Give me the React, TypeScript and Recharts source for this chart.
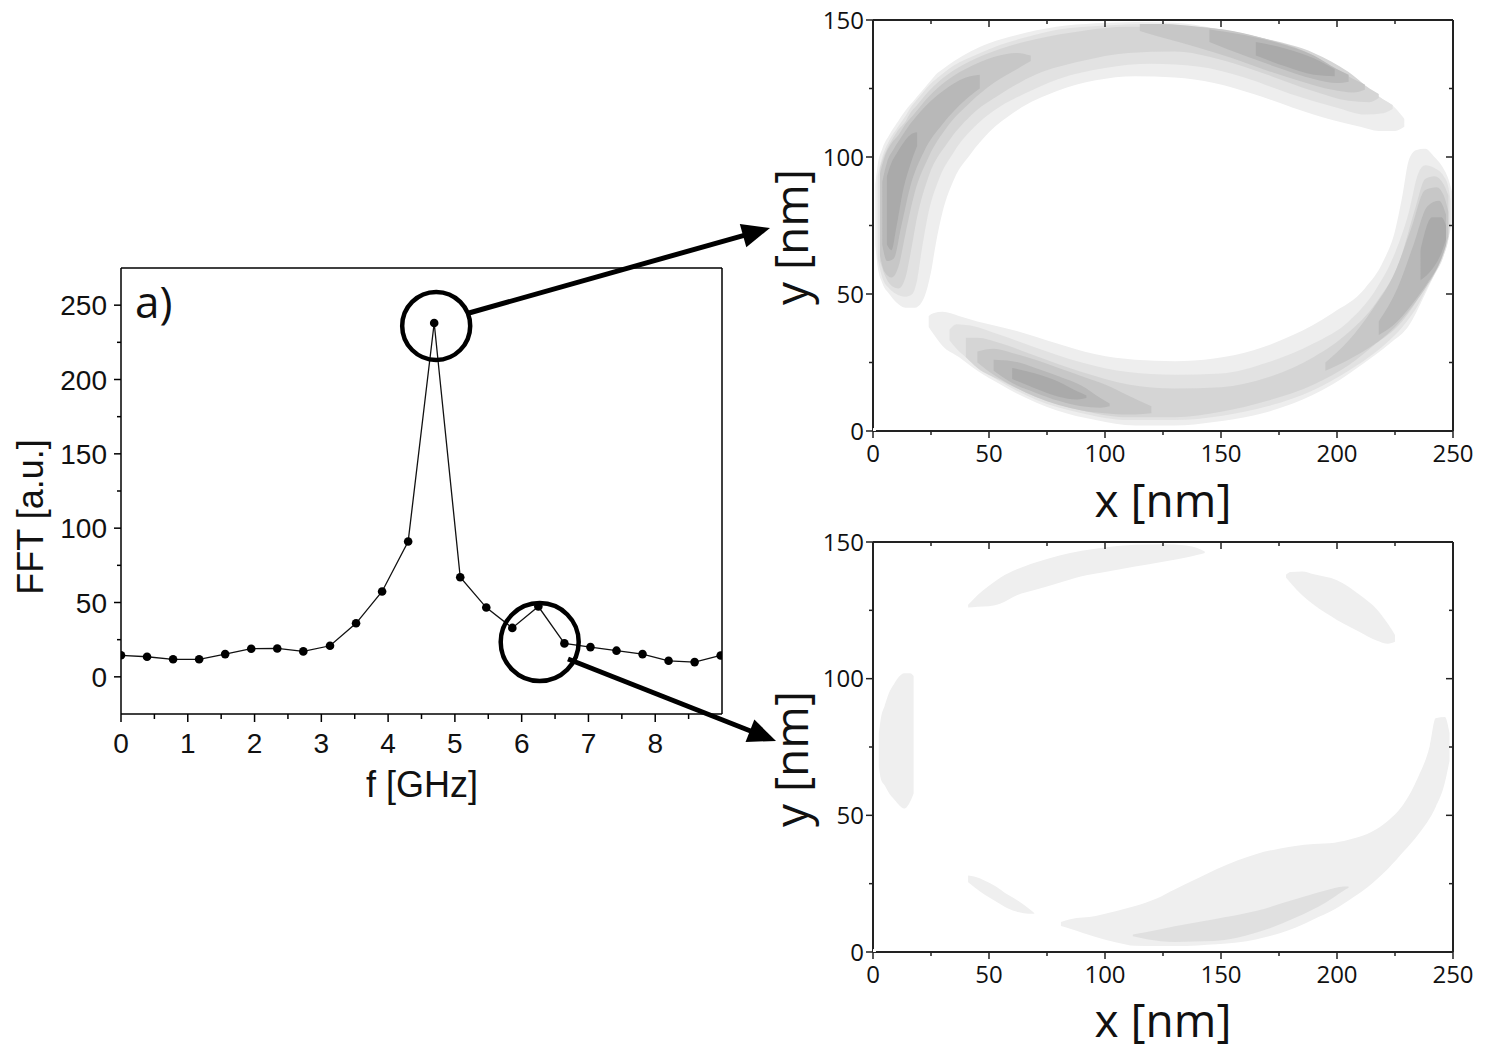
import React from 'react';
import { ComposedChart, Line, Area, XAxis, YAxis, ReferenceDot } from 'recharts';

// ---------------- Left panel: FFT spectrum ----------------
const freqs = [0, 0.39, 0.78, 1.17, 1.56, 1.95, 2.34, 2.73, 3.13, 3.52, 3.91, 4.3, 4.69, 5.08, 5.47, 5.86, 6.25, 6.64, 7.03, 7.42, 7.81, 8.2, 8.59, 8.98];
const fftValues = [14.5, 13.5, 11.8, 11.8, 15.3, 18.9, 19.1, 17.1, 20.9, 36, 57.4, 91, 238, 67, 46.6, 32.9, 47.3, 22.5, 20, 17.6, 15.3, 10.8, 9.9, 14.4];
const fTicks = [0, 0.5, 1, 1.5, 2, 2.5, 3, 3.5, 4, 4.5, 5, 5.5, 6, 6.5, 7, 7.5, 8, 8.5];
const fftTicks = [0, 25, 50, 75, 100, 125, 150, 175, 200, 225, 250];
const markA = { f: 4.72, v: 236 };
const markB = { f: 6.27, v: 23.4 };

// ---------------- Right panels: mode maps (x, yLow, yHigh in nm) ----------------
type Row = [number, number, number];
const nmTicksX = [0, 25, 50, 75, 100, 125, 150, 175, 200, 225, 250];
const nmTicksY = [0, 25, 50, 75, 100, 125, 150];

// top map, upper-left crescent
const topA1: Row[] = [[1, 68, 90], [2, 60, 97], [4, 54, 103], [7, 50, 108], [10, 47, 112], [14, 45, 117], [18, 45, 121], [21, 47, 124], [23, 51, 126], [25, 58, 128], [27, 68, 130], [30, 80, 132], [35, 92, 135], [42, 101, 138.5], [50, 109, 141.5], [62, 117, 144.5], [79, 124, 147.5], [96, 128, 148.8], [113, 129.5, 149.3], [130, 129, 149], [147, 127, 147], [164, 123, 144], [181, 118, 139.5], [198, 113.5, 132], [210, 111, 126.5], [218, 109.5, 122], [225, 109.5, 118], [229, 111, 114]];
const topA2: Row[] = [[2, 63, 93], [4, 56, 100], [7, 52, 106], [10, 50, 110], [14, 49, 115], [17, 50, 119], [19, 55, 121], [21, 66, 123], [24, 80, 126], [28, 91, 129], [35, 102, 133.5], [45, 112, 137.5], [55, 118.5, 141], [65, 123, 143.5], [80, 128.5, 146.5], [100, 132.5, 148], [120, 134, 148.5], [140, 133, 147.5], [160, 129, 145], [180, 123, 140], [200, 118, 132], [212, 115.5, 126], [220, 116, 121], [224, 117.5, 119]];
const topA3: Row[] = [[3, 62, 96], [5, 57, 101], [8, 53, 106], [11, 52, 110], [14, 56, 113], [16, 64, 116], [19, 78, 119], [24, 93, 124], [32, 105, 130], [42, 115, 135], [55, 123, 139.5], [70, 130, 143], [90, 135, 146], [110, 138, 147.5], [130, 138.5, 147], [150, 135.5, 146], [170, 130, 143], [190, 124, 138], [205, 120.5, 131], [214, 120, 125], [218, 121.5, 123]];
const topA4a: Row[] = [[3, 64, 94], [5, 58, 100], [8, 56, 105], [11, 60, 108], [14, 72, 112], [18, 87, 116], [24, 100, 122], [32, 111, 128], [42, 120, 133], [52, 127, 136.5], [62, 132, 138], [68, 135, 137]];
const topA4b: Row[] = [[115, 146, 148.5], [125, 143.5, 148.5], [140, 140, 147.5], [155, 136, 146], [170, 131.5, 143], [185, 127.5, 139], [198, 124.5, 133], [207, 123.5, 128.5], [212, 124.5, 126.5]];
const topA5a: Row[] = [[4, 68, 91], [6, 62, 98], [9, 63, 103], [12, 74, 107], [16, 89, 112], [22, 102, 118], [30, 112, 124], [40, 121, 129], [46, 125, 130]];
const topA5b: Row[] = [[145, 142, 146.5], [160, 137, 144.5], [175, 132.5, 141.5], [190, 128.5, 137], [200, 127, 132], [205, 127.5, 130]];
const topA6a: Row[] = [[6, 68, 93], [8, 66, 98], [10, 74, 101], [13, 88, 105], [16, 97, 108], [19, 104, 109]];
const topA6b: Row[] = [[165, 137, 142], [178, 133, 139.5], [190, 130, 136], [199, 129.5, 132]];

// top map, lower-right crescent
const topB1: Row[] = [[24, 38, 42], [26, 35.5, 43], [30, 31, 43.5], [37, 27, 42], [45, 22, 40], [55, 17, 38], [62, 13.7, 36.5], [79, 7.6, 32], [96, 4, 28], [113, 2, 26], [130, 2, 25.5], [147, 3.3, 26.5], [164, 5.7, 29.5], [181, 10, 35], [198, 17, 43], [212, 25, 52], [220, 30, 62], [225, 33.5, 73], [228, 35.5, 85], [231, 38.5, 99], [234, 43, 102.5], [238, 50, 103], [242, 57, 100], [245, 62, 97], [248, 70, 92], [250, 78, 86]];
const topB2: Row[] = [[33, 33, 37], [36, 30, 39], [42, 25.5, 38.5], [55, 18, 35], [70, 11.5, 30.5], [90, 6.5, 25], [110, 4, 21.5], [130, 4, 20.5], [150, 5.5, 21], [170, 9, 25], [190, 15, 32], [205, 22, 40], [217, 29, 52], [225, 35, 65], [231, 41, 80], [235, 46, 94], [238, 51, 97], [242, 57, 96], [246, 64, 93], [248, 70, 89], [249, 76, 84]];
const topB3: Row[] = [[40, 27, 34], [45, 23, 34], [55, 18.5, 32], [70, 12.5, 27.5], [90, 7.5, 21.5], [110, 5, 17], [130, 5, 15.5], [150, 7, 16], [170, 11, 19.5], [190, 17, 27], [205, 24, 36], [217, 32, 47], [227, 39, 62], [234, 47, 82], [238, 53, 92], [242, 59, 93], [246, 66, 90], [248, 72, 86]];
const topB4a: Row[] = [[45, 25, 29], [52, 20.5, 30], [60, 16.5, 28.5], [70, 12.5, 26], [80, 9.5, 23], [90, 7.5, 20], [100, 6.5, 17], [110, 6, 13], [120, 6.5, 9]];
const topB4b: Row[] = [[195, 22, 25], [205, 26, 33], [215, 31, 44], [225, 38, 58], [232, 45, 74], [238, 52, 88], [243, 59, 89], [246, 65, 86], [248, 71, 80]];
const topB5a: Row[] = [[52, 22, 26], [60, 17.5, 25.5], [70, 14, 23], [80, 11, 20], [90, 9, 16.5], [98, 8.5, 12], [102, 9, 10]];
const topB5b: Row[] = [[218, 35, 40], [226, 40, 52], [233, 47, 68], [239, 54, 82], [244, 61, 84], [247, 68, 79]];
const topB6a: Row[] = [[60, 19, 23], [70, 15.5, 21], [80, 12.5, 18], [88, 11.5, 14.5], [92, 12, 13]];
const topB6b: Row[] = [[236, 55, 66], [241, 59, 78], [245, 65, 78], [247, 70, 75]];

// bottom map
const botTop: Row[] = [[41, 126, 127], [45, 126.3, 130.5], [50, 126.5, 134], [55, 127.5, 137], [62, 130.5, 140], [70, 132.5, 142.5], [80, 135, 145], [90, 137.5, 146.8], [100, 139, 148], [113, 141, 149], [125, 142.8, 149.2], [135, 144.3, 148.7], [140, 145.3, 147.7], [143, 146, 146.5]];
const botRightUp: Row[] = [[178, 137, 138], [180, 135, 139], [185, 130.5, 139.2], [190, 127, 138.2], [200, 121.5, 136], [210, 117, 130.5], [217, 114, 125.5], [222, 112.8, 120], [225, 113.5, 116]];
const botLeft: Row[] = [[2.5, 68, 80], [3.5, 63, 86], [5, 61, 90], [7, 58, 95], [9, 56, 98], [11, 54, 100.5], [13.5, 52.5, 102], [16, 55, 102], [17.5, 58, 101]];
const botSmall: Row[] = [[41, 25.5, 28], [44, 23.5, 27.5], [48, 21, 26.2], [53, 18.5, 24], [58, 16, 21], [63, 14.5, 18.5], [67, 14, 16], [69.5, 14, 14.3]];
const botBig: Row[] = [[81, 9.5, 11], [85, 8.5, 12], [96, 5.5, 13.2], [105, 3.5, 15], [113, 2.3, 16.8], [122, 2.2, 19.5], [130, 2.2, 22.9], [140, 2.4, 27], [148, 2.8, 30.3], [157, 3.5, 33.5], [165, 4.6, 35.8], [175, 6.8, 37.8], [182, 8.9, 38.8], [190, 12, 39.5], [199, 15.6, 40], [207, 20, 41.5], [215, 25, 44], [222, 30.5, 48], [229, 37, 54.5], [235, 43, 64], [240, 49, 75.5], [242.5, 53, 85.5], [246.5, 62, 86], [248.5, 70, 80]];
const botCore: Row[] = [[112, 5.8, 6.4], [118, 4.7, 7.3], [130, 3.7, 9.4], [147, 4, 12], [165, 7, 15], [182, 12.5, 19.3], [195, 18, 22.5], [203, 22.5, 24], [205, 23.5, 24]];

const G1 = '#eeeeee', G2 = '#e2e2e2', G3 = '#d5d5d5', G4 = '#c7c7c7', G5 = '#b8b8b8', G6 = '#aaaaaa';

const topLayers: { rows: Row[]; fill: string }[] = [
  { rows: topA1, fill: G1 }, { rows: topB1, fill: G1 },
  { rows: topA2, fill: G2 }, { rows: topB2, fill: G2 },
  { rows: topA3, fill: G3 }, { rows: topB3, fill: G3 },
  { rows: topA4a, fill: G4 }, { rows: topA4b, fill: G4 }, { rows: topB4a, fill: G4 }, { rows: topB4b, fill: G4 },
  { rows: topA5a, fill: G5 }, { rows: topA5b, fill: G5 }, { rows: topB5a, fill: G5 }, { rows: topB5b, fill: G5 },
  { rows: topA6a, fill: G6 }, { rows: topA6b, fill: G6 }, { rows: topB6a, fill: G6 }, { rows: topB6b, fill: G6 },
];
const botLayers: { rows: Row[]; fill: string }[] = [
  { rows: botTop, fill: '#efefef' }, { rows: botRightUp, fill: '#efefef' }, { rows: botLeft, fill: '#efefef' },
  { rows: botSmall, fill: '#efefef' }, { rows: botBig, fill: '#efefef' }, { rows: botCore, fill: '#e0e0e0' },
];

const toData = (rows: Row[]) => rows.map(([x, lo, hi]) => ({ x, r: [lo, hi] }));
const leftData = freqs.map((f, i) => ({ f, v: fftValues[i] }));
const frameData = [{ x: 0, y: 0 }];

const NARROW = "'Liberation Sans Narrow', 'Liberation Sans', Arial, sans-serif";
const SANS = "'Liberation Sans', Arial, sans-serif";
const OPEN = "'Open Sans', 'Noto Sans', sans-serif";

// ---------- tick renderers ----------
const leftXTick = (p: any) => {
  const v = p.payload.value;
  const major = Number.isInteger(v);
  return (
    <g>
      <line x1={p.x} y1={p.y} x2={p.x} y2={p.y + (major ? 8 : 5)} stroke="#000" strokeWidth={1.5} />
      {major && (
        <text x={p.x} y={p.y + 39} textAnchor="middle" fontFamily={NARROW} fontSize={28} fill="#111">{v}</text>
      )}
    </g>
  );
};
const leftYTick = (p: any) => {
  const v = p.payload.value;
  const major = v % 50 === 0;
  return (
    <g>
      <line x1={p.x - (major ? 7 : 4)} y1={p.y} x2={p.x} y2={p.y} stroke="#000" strokeWidth={1.5} />
      {major && (
        <text x={p.x - 14} y={p.y} dy="0.36em" textAnchor="end" fontFamily={NARROW} fontSize={28} fill="#111">{v}</text>
      )}
    </g>
  );
};
const mapXTick = (p: any) => {
  const v = p.payload.value;
  const major = v % 50 === 0;
  return (
    <g>
      <line x1={p.x} y1={p.y} x2={p.x} y2={p.y + (major ? 7 : 4)} stroke="#222" strokeWidth={1.5} />
      {major && (
        <text x={p.x} y={p.y + 31} textAnchor="middle" fontFamily={OPEN} fontSize={24} fill="#111">{v}</text>
      )}
    </g>
  );
};
const mapYTick = (p: any) => {
  const v = p.payload.value;
  const major = v % 50 === 0;
  return (
    <g>
      <line x1={p.x - (major ? 7 : 4)} y1={p.y} x2={p.x} y2={p.y} stroke="#222" strokeWidth={1.5} />
      {major && (
        <text x={p.x - 9} y={p.y} dy="0.36em" textAnchor="end" fontFamily={OPEN} fontSize={24} fill="#111">{v}</text>
      )}
    </g>
  );
};
const mapTopTick = (p: any) => {
  const major = p.payload.value % 50 === 0;
  return <line x1={p.x} y1={p.y} x2={p.x} y2={p.y + (major ? 7 : 4)} stroke="#222" strokeWidth={1.5} />;
};
const mapRightTick = (p: any) => {
  const major = p.payload.value % 50 === 0;
  return <line x1={p.x} y1={p.y} x2={p.x - (major ? 7 : 4)} y2={p.y} stroke="#222" strokeWidth={1.5} />;
};

function MapChart({ layers, top }: { layers: { rows: Row[]; fill: string }[]; top: number }) {
  return (
    <div style={{ position: 'absolute', left: 780, top, width: 707, height: 520 }}>
      <ComposedChart width={707} height={520} margin={{ top: 19, right: 33, bottom: top > 0 ? 50 : 49, left: 33 }}>
        <XAxis xAxisId="b" dataKey="x" type="number" domain={[0, 250]} ticks={nmTicksX} interval={0} allowDataOverflow
          height={40} tickSize={0} tickMargin={0} tick={mapXTick} axisLine={{ stroke: '#222', strokeWidth: 2 }} tickLine={false} />
        <XAxis xAxisId="t" orientation="top" dataKey="x" type="number" domain={[0, 250]} ticks={nmTicksX} interval={0} allowDataOverflow
          height={1} tickSize={0} tickMargin={0} tick={mapTopTick} axisLine={{ stroke: '#222', strokeWidth: 2 }} tickLine={false} />
        <YAxis yAxisId="l" type="number" domain={[0, 150]} ticks={nmTicksY} interval={0} allowDataOverflow
          width={60} tickSize={0} tickMargin={0} tick={mapYTick} axisLine={{ stroke: '#222', strokeWidth: 2 }} tickLine={false} />
        <YAxis yAxisId="r" orientation="right" type="number" domain={[0, 150]} ticks={nmTicksY} interval={0} allowDataOverflow
          width={1} tickSize={0} tickMargin={0} tick={mapRightTick} axisLine={{ stroke: '#222', strokeWidth: 2 }} tickLine={false} />
        {layers.map((l, i) => (
          <Area key={i} xAxisId="b" yAxisId="l" data={toData(l.rows)} dataKey="r" type="monotone"
            stroke="none" fill={l.fill} fillOpacity={1} dot={false} activeDot={false} isAnimationActive={false} />
        ))}
        <Line xAxisId="t" yAxisId="r" data={frameData} dataKey="y" stroke="none" dot={false} activeDot={false} isAnimationActive={false} />
      </ComposedChart>
    </div>
  );
}

function arrowHead(x1: number, y1: number, x2: number, y2: number, len = 28, half = 12) {
  const dx = x2 - x1, dy = y2 - y1;
  const d = Math.hypot(dx, dy);
  const ux = dx / d, uy = dy / d;
  const bx = x2 - ux * len, by = y2 - uy * len;
  const px = -uy, py = ux;
  return {
    line: { x1, y1, x2: bx + ux * 2, y2: by + uy * 2 },
    pts: `${x2},${y2} ${bx + px * half},${by + py * half} ${bx - px * half},${by - py * half}`,
  };
}

export default function App() {
  const a1 = arrowHead(469, 313, 770, 228);
  const a2 = arrowHead(568, 659, 776, 741);
  return (
    <div style={{ position: 'absolute', left: 0, top: 0, width: 1487, height: 1050, background: '#fff', overflow: 'hidden' }}>
      <div style={{ position: 'absolute', left: 0, top: 0, width: 740, height: 820 }}>
        <ComposedChart width={740} height={820} data={leftData} margin={{ top: 267, right: 17, bottom: 56, left: 51 }}>
          <XAxis dataKey="f" type="number" domain={[0, 9]} ticks={fTicks} interval={0} allowDataOverflow
            height={50} tickSize={0} tickMargin={0} tick={leftXTick} tickLine={false} axisLine={{ stroke: '#000', strokeWidth: 1.5 }} />
          <XAxis xAxisId="t" orientation="top" dataKey="f" type="number" domain={[0, 9]} allowDataOverflow
            height={1} tick={false} tickLine={false} axisLine={{ stroke: '#000', strokeWidth: 1.5 }} />
          <YAxis type="number" domain={[-25, 275]} ticks={fftTicks} interval={0} allowDataOverflow
            width={70} tickSize={0} tickMargin={0} tick={leftYTick} tickLine={false} axisLine={{ stroke: '#000', strokeWidth: 1.5 }} />
          <YAxis yAxisId="r" orientation="right" type="number" domain={[-25, 275]} allowDataOverflow
            width={1} tick={false} tickLine={false} axisLine={{ stroke: '#000', strokeWidth: 1.5 }} />
          <Line dataKey="v" type="linear" stroke="#111" strokeWidth={1.3} isAnimationActive={false}
            dot={{ r: 4.3, fill: '#000', stroke: '#000', strokeWidth: 0 }} activeDot={false} />
          <Line xAxisId="t" yAxisId="r" dataKey="v" stroke="none" dot={false} activeDot={false} isAnimationActive={false} />
          <ReferenceDot x={markA.f} y={markA.v} r={34} fill="none" stroke="#000" strokeWidth={4.5} ifOverflow="visible" />
          <ReferenceDot x={markB.f} y={markB.v} r={39} fill="none" stroke="#000" strokeWidth={4.5} ifOverflow="visible" />
        </ComposedChart>
      </div>

      <MapChart layers={topLayers} top={0} />
      <MapChart layers={botLayers} top={522} />

      <svg width={1487} height={1050} style={{ position: 'absolute', left: 0, top: 0, pointerEvents: 'none' }}>
        <text x={135} y={318} fontFamily={OPEN} fontSize={44} fill="#111">a)</text>
        <text transform="translate(43,517) rotate(-90)" textAnchor="middle" fontFamily={SANS} fontSize={36} fill="#111">FFT [a.u.]</text>
        <text x={422} y={797} textAnchor="middle" fontFamily={SANS} fontSize={36} fill="#111">f [GHz]</text>
        <text x={1163} y={517} textAnchor="middle" fontFamily={OPEN} fontSize={46} fill="#111">x [nm]</text>
        <text x={1163} y={1037} textAnchor="middle" fontFamily={OPEN} fontSize={46} fill="#111">x [nm]</text>
        <text transform="translate(808,237) rotate(-90)" textAnchor="middle" fontFamily={OPEN} fontSize={46} fill="#111">y [nm]</text>
        <text transform="translate(808,759) rotate(-90)" textAnchor="middle" fontFamily={OPEN} fontSize={46} fill="#111">y [nm]</text>
        <line {...a1.line} stroke="#000" strokeWidth={5} />
        <polygon points={a1.pts} fill="#000" />
        <line {...a2.line} stroke="#000" strokeWidth={5} />
        <polygon points={a2.pts} fill="#000" />
      </svg>
    </div>
  );
}
